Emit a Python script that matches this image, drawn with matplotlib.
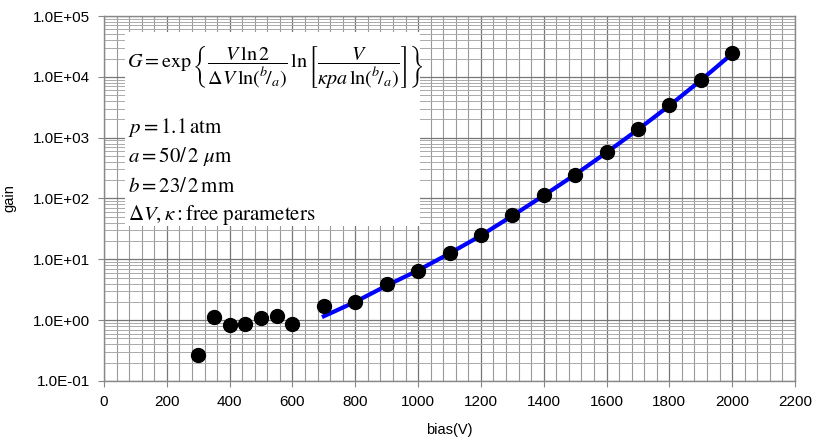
import matplotlib
matplotlib.use("Agg")
import matplotlib.pyplot as plt
from matplotlib.ticker import FixedLocator, LogLocator, FuncFormatter, NullFormatter
from matplotlib.patches import Rectangle

plt.rcParams['mathtext.fontset'] = 'stix'

bias_meas = [300, 350, 400, 450, 500, 550, 600, 700, 800, 900, 1000, 1100, 1200,
             1300, 1400, 1500, 1600, 1700, 1800, 1900, 2000]
gain_meas = [0.265, 1.12, 0.82, 0.86, 1.07, 1.16, 0.88, 1.71, 1.99, 3.9, 6.4, 12.5, 24.9,
             53, 113, 248, 571, 1365, 3385, 8830, 24270]

bias_fit = [700, 800, 900, 1000, 1100, 1200, 1300, 1400, 1500, 1600, 1700, 1800, 1900, 2000]
gain_fit = [1.16, 2.0, 3.7, 6.6, 12.5, 24.6, 52, 112, 247, 570, 1360, 3360, 8750, 24000]

x_ticks = [0, 200, 400, 600, 800, 1000, 1200, 1400, 1600, 1800, 2000, 2200]
y_ticks = [1e-1, 1e0, 1e1, 1e2, 1e3, 1e4, 1e5]
y_tick_labels = ["1.0E-01", "1.0E+00", "1.0E+01", "1.0E+02", "1.0E+03", "1.0E+04", "1.0E+05"]

fig = plt.figure(figsize=(8.13, 4.43), dpi=100)
ax = fig.add_axes([104/813, 1-381/443, (795-104)/813, (381-16)/443])
ax.set_yscale('log')
ax.set_xlim(0, 2200)
ax.set_ylim(1e-1, 1e5)

ax.xaxis.set_major_locator(FixedLocator(x_ticks))
ax.xaxis.set_minor_locator(FixedLocator([v for v in range(0, 2201, 40)]))
ax.yaxis.set_major_locator(FixedLocator(y_ticks))
ax.yaxis.set_major_formatter(FuncFormatter(lambda v, p: y_tick_labels[y_ticks.index(min(y_ticks, key=lambda t: abs(t - v)))]))
ax.yaxis.set_minor_locator(LogLocator(base=10, subs=range(2, 10)))
ax.yaxis.set_minor_formatter(NullFormatter())

ax.grid(which='major', axis='both', color='#777777', linewidth=0.9)
ax.grid(which='minor', axis='x', color='#999999', linewidth=0.8)
ax.grid(which='minor', axis='y', color='#aaaaaa', linewidth=0.7)
ax.set_axisbelow(True)

for s in ax.spines.values():
    s.set_color('#888888')
    s.set_linewidth(1.0)

ax.tick_params(axis='both', which='major', labelsize=11, length=4, color='#888888', pad=6)
ax.tick_params(axis='both', which='minor', length=0)
for lab in ax.get_xticklabels() + ax.get_yticklabels():
    lab.set_fontfamily('Liberation Sans')

ax.plot(bias_fit, gain_fit, color='#0000ff', linewidth=3, zorder=3)
ax.plot(bias_meas, gain_meas, 'o', color='black', markersize=10, zorder=4)

ax.set_xlabel('bias(V)', fontsize=10.5, fontfamily='Liberation Sans', labelpad=10)
ax.set_ylabel('gain', fontsize=10.5, fontfamily='Liberation Sans', labelpad=12)

# white formula box
bx0, by0, bx1, by1 = 125, 32, 420, 226
rect = Rectangle((bx0/813, 1-by1/443), (bx1-bx0)/813, (by1-by0)/443,
                 transform=fig.transFigure, facecolor='white', edgecolor='none', zorder=5)
fig.patches.append(rect)

formula = (r'$G=\exp\left\{\dfrac{V\,\ln 2}{\Delta V\,\ln({}^{b}\!/{}_{a})}\,'
           r'\ln\left[\dfrac{V}{\kappa p a\,\ln({}^{b}\!/{}_{a})}\right]\right\}$')
fig.text(127/813, 1-66/443, formula, fontsize=14.5, va='center', ha='left', zorder=6)
lines = [r'$p=1.1\,\mathrm{atm}$',
         r'$a=50/\,2\ \mu\mathrm{m}$',
         r'$b=23/\,2\,\mathrm{mm}$',
         r'$\Delta V,\kappa : \mathrm{free\ parameters}$']
ys = [128, 157, 186, 215]
for t, y in zip(lines, ys):
    fig.text(128/813, 1-y/443, t, fontsize=15, va='center', ha='left', zorder=6)

fig.savefig('out.png', dpi=100)
